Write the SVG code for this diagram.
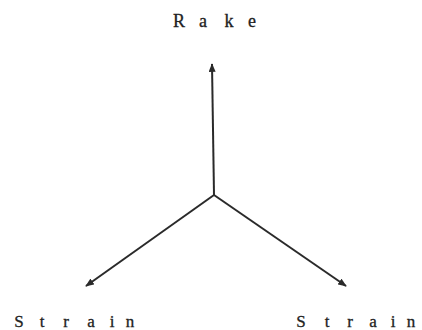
<svg xmlns="http://www.w3.org/2000/svg" width="422" height="330" viewBox="0 0 422 330">
<style>
.lbl{font-family:"Liberation Serif","DejaVu Serif",serif;fill:#222;text-anchor:middle;stroke:#222;stroke-width:0.3}
.ax{stroke:#2a2a2a;stroke-width:2;fill:none}
</style>
<defs>
<marker id="ah" viewBox="0 0 10 8" refX="9" refY="4" markerWidth="9" markerHeight="7" markerUnits="userSpaceOnUse" orient="auto">
<path d="M0,0 L10,4 L0,8 Z" fill="#2a2a2a"/>
</marker>
</defs>
<rect width="422" height="330" fill="#fff"/>
<g id="connectors">
<line class="ax" x1="214" y1="195" x2="212" y2="64" marker-end="url(#ah)"/>
<line class="ax" x1="214" y1="195" x2="86" y2="286" marker-end="url(#ah)"/>
<line class="ax" x1="214" y1="195" x2="346" y2="286" marker-end="url(#ah)"/>
</g>
<g id="rake">
<text class="lbl" font-size="18" x="179 203 229 252" y="27">Rake</text>
</g>
<g id="strain-left">
<text class="lbl" font-size="17" x="19 42 66 91 112 130" y="327">Strain</text>
</g>
<g id="strain-right">
<text class="lbl" font-size="17" x="301 327 350 373 393 411" y="327">Strain</text>
</g>
</svg>
